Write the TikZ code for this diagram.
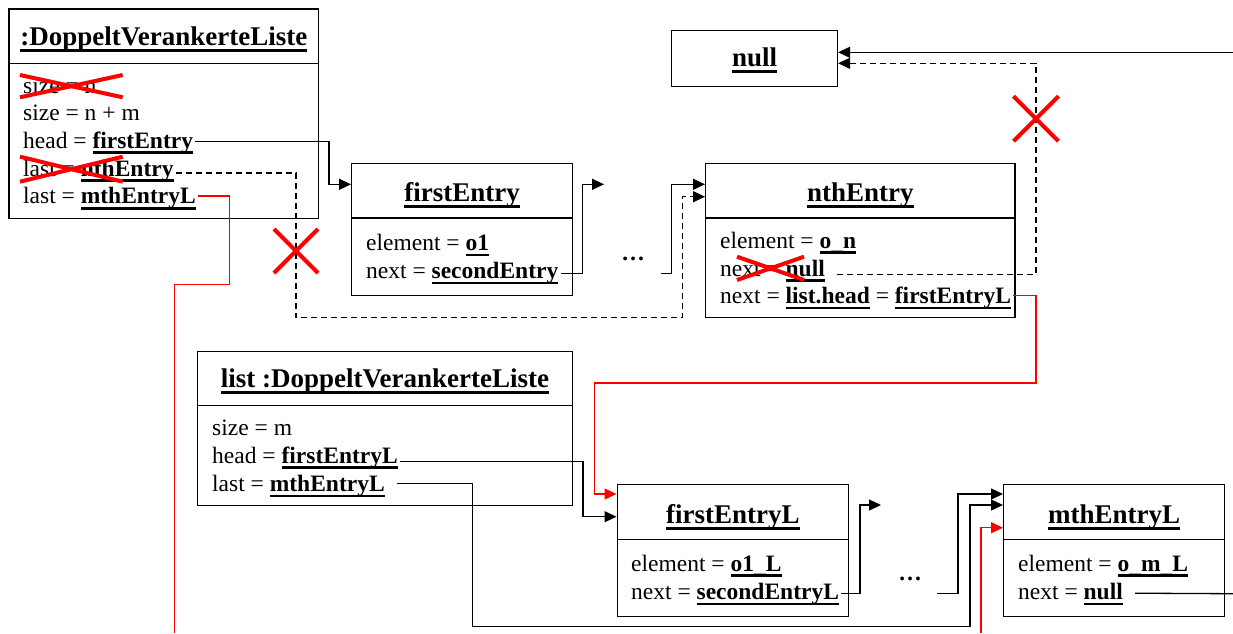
\documentclass[tikz,border=0pt]{standalone}
\usepackage{fontspec}
\setmainfont{Liberation Serif}
\usetikzlibrary{arrows.meta}

% underline with a thick rule a little below the baseline
\newcommand\uln[1]{\leavevmode\setbox0\hbox{#1}\rlap{\vrule height -0.13em depth 0.245em width \wd0}\box0\relax}
\newcommand\ub[1]{\uln{\bfseries #1}}
% underscore sunk into the underline
\newcommand\us{\lower0.07em\hbox{\_}}

\tikzset{
  objbox/.style={draw, line width=1.4pt, inner sep=0pt, anchor=north west},
  sep/.style={line width=1.4pt},
  ttl/.style={font=\fontsize{27pt}{32pt}\selectfont\bfseries, inner sep=0pt, anchor=base},
  attr/.style={font=\fontsize{23.5pt}{28pt}\selectfont, inner ysep=0pt, inner xsep=2pt,
               anchor=base west, text height=16pt, text depth=2pt},
  dots/.style={font=\fontsize{23.5pt}{28pt}\selectfont\bfseries, inner sep=0pt, anchor=base},
  conn/.style={line width=1.3pt, -{Triangle[length=12pt,width=11pt]}},
  plain/.style={line width=1.3pt},
  dconn/.style={conn, dash pattern=on 6pt off 4pt},
  rconn/.style={conn, red},
  rplain/.style={plain, red},
  strike/.style={red, line width=4pt},
}

\begin{document}
\begin{tikzpicture}[x=1pt, y=-1pt]
\useasboundingbox[fill=white] (0,0) rectangle (1233,633);

% ---------- object boxes ----------
\node[objbox, minimum width=309.7pt, minimum height=209.7pt] (b1) at (8.3,8.3) {};
\draw[sep] (b1.west |- 0,63.5) -- (b1.east |- 0,63.5);
\node[ttl] (b1t) at (b1.north |- 0,45) {\uln{:DoppeltVerankerteListe}};
\node[attr] (b1a) at (21,93) {size = n};
\node[attr] (b1b) at (21,120.7) {size = n + m};
\node[attr] (b1c) at (21,148.4) {head = \ub{firstEntry}};
\node[attr] (b1d) at (21,176.1) {last = \ub{nthEntry}};
\node[attr] (b1e) at (21,203.8) {last = \ub{mthEntryL}};

\node[objbox, minimum width=165.7pt, minimum height=55.5pt] (nul) at (671,30) {};
\node[ttl] (nult) at (nul.north |- 0,66.7) {\uln{null}};

\node[objbox, minimum width=221pt, minimum height=132pt] (fe) at (351,163) {};
\draw[sep] (fe.west |- 0,218) -- (fe.east |- 0,218);
\node[ttl] (fet) at (fe.north |- 0,201) {\uln{firstEntry}};
\node[attr] (fea) at (364,250.5) {element = \ub{o1}};
\node[attr] (feb) at (364,278.5) {next = \ub{secondEntry}};

\node[objbox, minimum width=309.4pt, minimum height=154pt] (ne) at (705,163) {};
\draw[sep] (ne.west |- 0,218) -- (ne.east |- 0,218);
\node[ttl] (net) at (ne.north |- 0,201.7) {\uln{nthEntry}};
\node[attr] (nea) at (718,248.3) {element = \ub{o\us n}};
\node[attr] (neb) at (718,276) {next = \ub{null}};
\node[attr] (nec) at (718,303.5) {next = \ub{list.head} = \ub{firstEntryL}};

\node[objbox, minimum width=375.3pt, minimum height=154.3pt] (li) at (196.7,350.7) {};
\draw[sep] (li.west |- 0,405.7) -- (li.east |- 0,405.7);
\node[ttl] (lit) at (li.north |- 0,387.7) {\uln{list :DoppeltVerankerteListe}};
\node[attr] (lia) at (210,435.7) {size = m};
\node[attr] (lib) at (210,463.3) {head = \ub{firstEntryL}};
\node[attr] (lic) at (210,491.7) {last = \ub{mthEntryL}};

\node[objbox, minimum width=231.5pt, minimum height=132pt] (fl) at (616.5,483.5) {};
\draw[sep] (fl.west |- 0,539.3) -- (fl.east |- 0,539.3);
\node[ttl] (flt) at (fl.north |- 0,523.3) {\uln{firstEntryL}};
\node[attr] (fla) at (629,571) {element = \ub{o1\us L}};
\node[attr] (flb) at (629,599.5) {next = \ub{secondEntryL}};

\node[objbox, minimum width=221pt, minimum height=132pt] (ml) at (1003,483.5) {};
\draw[sep] (ml.west |- 0,539.3) -- (ml.east |- 0,539.3);
\node[ttl] (mlt) at (ml.north |- 0,523.3) {\uln{mthEntryL}};
\node[attr] (mla) at (1016,571) {element = \ub{o\us m\us L}};
\node[attr] (mlb) at (1016,599.5) {next = \ub{null}};

% ---------- elided list elements ----------
\node[dots] (d1) at (633,260) {…};
\node[dots] (d2) at (910,580) {…};

% free ends of the connectors
\coordinate (g1) at (604,184.3);
\coordinate (g2) at (660.5,273.3);
\coordinate (g3) at (881,505);
\coordinate (g4) at (937,593.7);
\coordinate (e1) at (1233,52.3);
\coordinate (e2) at (1233,593.7);
\coordinate (s1) at (174.3,633);
\coordinate (s2) at (981,633);

% ---------- references of the first list ----------
\draw[conn] (b1c.east) -| (329,184.3) -- (fe.west |- 0,184.3);
\draw[dconn] ([yshift=-3.8pt]b1d.east) -| (296,317.5) -| (682.5,196.7) -- (ne.west |- 0,196.7);
\draw[rplain] ([yshift=0.8pt]b1e.east) -| (229.3,284.3) -| (s1);
\draw[conn] ([yshift=-2pt]feb.east) -| (582.5,184.3) -- (g1);
\draw[conn] (g2) -| (671.5,184.3) -- (ne.west |- 0,184.3);
\draw[dconn] ([xshift=10pt,yshift=-5.5pt]neb.east) -| (1036,63.3) -- (nul.east |- 0,63.3);
\draw[rconn] ([yshift=1.2pt]nec.east) -| (1036,383) -| (594.5,494) -- (fl.west |- 0,494);
\draw[conn] (e1) -- (nul.east |- 0,52.3);

% ---------- references of the appended list ----------
\draw[conn] ([yshift=-5.4pt]lib.east) -| (583,516.7) -- (fl.west |- 0,516.7);
\draw[conn] ([xshift=10pt,yshift=1.4pt]lic.east) -| (472.7,626.5) -| (970,505) -- (ml.west |- 0,505);
\draw[conn] ([yshift=-0.7pt]flb.east) -| (860,505) -- (g3);
\draw[conn] (g4) -| (958,494) -- (ml.west |- 0,494);
\draw[rconn] (s2) |- (ml.west |- 0,527.7);
\draw[plain] ([xshift=10pt,yshift=-0.7pt]mlb.east) -- (e2);

% ---------- removed values and links ----------
\draw[strike] (20,75) -- (122.7,97.3) (20,97.3) -- (122.7,75);
\draw[strike] (20,156.7) -- (122.7,181.7) (20,181.7) -- (122.7,156.7);
\draw[strike] (737,256.7) -- (804,280) (737,280) -- (804,256.7);
\draw[strike] (1013.5,96.2) -- (1058.5,141.2) (1013.5,141.2) -- (1058.5,96.2);
\draw[strike] (274,229) -- (318,273) (274,273) -- (318,229);
\end{tikzpicture}
\end{document}
